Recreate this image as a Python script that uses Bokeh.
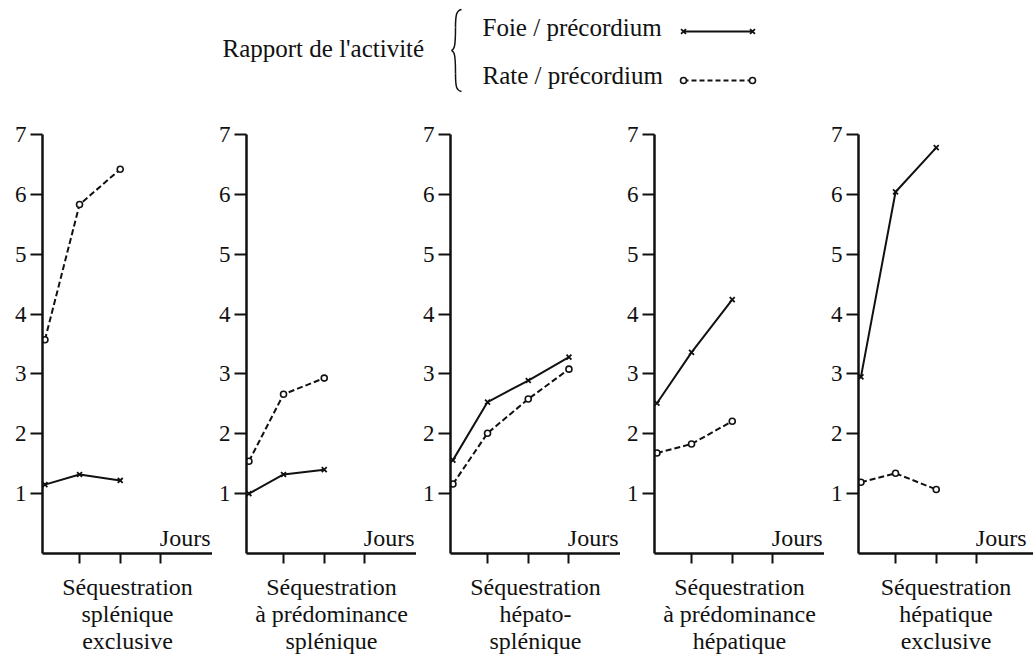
from bokeh.plotting import figure
from bokeh.layouts import column, row
from bokeh.models import Range1d, FixedTicker, Label
from bokeh.embed import file_html
from bokeh.resources import INLINE
from bokeh.core.properties import value

FONT = "Liberation Serif"
INK = "#111111"

# ---- data ----
panel_titles = [
    "Séquestration\nsplénique\nexclusive",
    "Séquestration\nà prédominance\nsplénique",
    "Séquestration\nhépato-\nsplénique",
    "Séquestration\nà prédominance\nhépatique",
    "Séquestration\nhépatique\nexclusive",
]
days_3 = [0.15, 1, 2]
days_4 = [0.15, 1, 2, 3]
panel_days = [days_3, days_3, days_4, days_3, days_3]
foie_precordium = [
    [1.15, 1.32, 1.22],
    [1.00, 1.32, 1.40],
    [1.56, 2.53, 2.89, 3.28],
    [2.51, 3.36, 4.24],
    [2.95, 6.04, 6.78],
]
rate_precordium = [
    [3.57, 5.83, 6.42],
    [1.54, 2.66, 2.93],
    [1.16, 2.01, 2.58, 3.08],
    [1.68, 1.83, 2.21],
    [1.19, 1.34, 1.07],
]
y_ticks = [1, 2, 3, 4, 5, 6, 7]
x_ticks = [1, 2, 3]
legend_title = "Rapport de l'activité"
legend_labels = ["Foie / précordium", "Rate / précordium"]
x_label = "Jours"

# ---- layout constants ----
PX_PER_DAY = 40.7
X_START = 0.09
FRAME_W = 170
LEG_H = 113
PANEL_H = 544

# ---- legend strip ----
leg = figure(width=1033, height=LEG_H, x_range=Range1d(0, 1033), y_range=Range1d(LEG_H, 0),
             output_backend="svg", toolbar_location=None, min_border=0,
             x_axis_type=None, y_axis_type=None, outline_line_color=None)
leg.xgrid.visible = False
leg.ygrid.visible = False
leg.text(x=[222], y=[48], text=[legend_title], text_font=value(FONT), text_font_size="25px",
         text_baseline="middle", text_align="left", text_color=INK)
leg.text(x=[482, 482], y=[26.5, 75], text=legend_labels, text_font=value(FONT),
         text_font_size="25px", text_baseline="middle", text_align="left", text_color=INK)
# brace
leg.bezier(x0=[461, 455, 451, 455], y0=[9, 27, 50, 73],
           x1=[455, 451, 455, 461], y1=[27, 50, 73, 91],
           cx0=[456, 455, 454, 455], cy0=[10, 45, 51, 87],
           cx1=[455, 454, 455, 456], cy1=[14, 49, 55, 90],
           line_color=INK, line_width=1.5)
leg.line([683, 752], [31, 31], line_color=INK, line_width=2)
leg.scatter([683, 752], [31, 31], marker="x", size=7, line_color=INK, line_width=1.8)
leg.line([683, 752], [80, 80], line_color=INK, line_width=1.8, line_dash="5 3")
leg.scatter([683, 752], [80, 80], marker="circle", size=6, line_color=INK, fill_color="white",
            line_width=1.6)

# ---- panels ----
panels = []
n = len(panel_titles)
for i, title in enumerate(panel_titles):
    left = 42 if i == 0 else 34
    fw = 175 if i == n - 1 else FRAME_W
    p = figure(width=left + fw, height=PANEL_H,
               x_range=Range1d(X_START, X_START + fw / PX_PER_DAY), y_range=Range1d(0, 7),
               min_border_left=left, min_border_right=0, min_border_top=21, min_border_bottom=104,
               output_backend="svg", toolbar_location=None, outline_line_color=None)
    p.xgrid.visible = False
    p.ygrid.visible = False

    ya = p.yaxis[0]
    ya.ticker = FixedTicker(ticks=y_ticks)
    ya.axis_line_width = 2.5
    ya.axis_line_color = INK
    ya.major_tick_out = 12
    ya.major_tick_in = 0
    ya.major_tick_line_width = 2
    ya.major_tick_line_color = INK
    ya.minor_tick_line_color = None
    ya.major_label_text_font = FONT
    ya.major_label_text_font_size = "23px"
    ya.major_label_text_color = INK
    ya.major_label_standoff = 4

    xa = p.xaxis[0]
    xa.ticker = FixedTicker(ticks=x_ticks)
    xa.major_label_overrides = {t: "" for t in x_ticks}
    xa.major_label_text_font_size = "0px"
    xa.major_label_standoff = 0
    xa.axis_line_width = 2.5
    xa.axis_line_color = INK
    xa.major_tick_out = 10
    xa.major_tick_in = 0
    xa.major_tick_line_width = 2
    xa.major_tick_line_color = INK
    xa.minor_tick_line_color = None
    xa.axis_label = title
    xa.axis_label_text_font = FONT
    xa.axis_label_text_font_size = "24px"
    xa.axis_label_text_font_style = "normal"
    xa.axis_label_text_color = INK
    xa.axis_label_text_line_height = 1.05
    xa.axis_label_standoff = 10

    d = panel_days[i]
    p.line(d, foie_precordium[i], line_color=INK, line_width=2)
    p.scatter(d, foie_precordium[i], marker="x", size=7, line_color=INK, line_width=1.8)
    p.line(d, rate_precordium[i], line_color=INK, line_width=2, line_dash="6 3")
    p.scatter(d, rate_precordium[i], marker="circle", size=6, line_color=INK,
              fill_color="white", line_width=1.6)

    p.add_layout(Label(x=X_START + 168 / PX_PER_DAY, y=0.26, text=x_label,
                       text_font=FONT, text_font_size="24px", text_align="right",
                       text_baseline="middle", text_color=INK))
    panels.append(p)

layout = column(leg, row(*panels, spacing=0), spacing=0)
open("out.html", "w").write(file_html(layout, INLINE, title="chart"))
